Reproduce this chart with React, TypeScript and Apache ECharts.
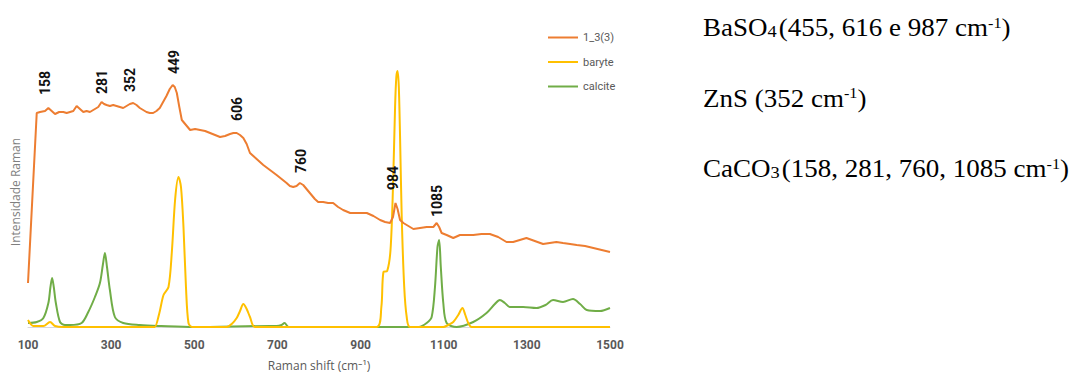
import React, { useEffect, useRef } from "react";
import * as echarts from "echarts";

const xTicks = [100, 300, 500, 700, 900, 1100, 1300, 1500];

const sampleShift = [100, 121, 129, 141, 149, 157, 165, 175, 185, 193, 201, 209, 217, 225, 233, 241, 249, 261, 269, 277, 283, 289, 297, 305, 313, 321, 329, 337, 345, 353, 361, 369, 377, 385, 393, 401, 409, 417, 425, 433, 441, 448, 453, 458, 464, 470, 480, 490, 502, 514, 526, 538, 550, 562, 574, 586, 594, 602, 610, 618, 626, 634, 650, 666, 682, 698, 710, 722, 730, 738, 746, 754, 762, 770, 778, 790, 798, 810, 822, 834, 846, 858, 875, 895, 915, 931, 947, 959, 971, 978, 984, 989, 995, 1003, 1015, 1027, 1043, 1059, 1075, 1083, 1089, 1095, 1107, 1123, 1139, 1155, 1171, 1191, 1211, 1231, 1251, 1267, 1283, 1299, 1319, 1339, 1355, 1371, 1387, 1404, 1420, 1440, 1460, 1480, 1500];
const sampleIntensity = [44, 214, 215, 216, 219, 216, 213, 215, 215, 214, 215, 216, 221, 218, 215, 216, 215, 218, 220, 225, 223, 222, 221, 222, 221, 220, 219, 221, 223, 224, 222, 219, 217, 215, 214, 214, 216, 219, 225, 231, 238, 242, 240, 234, 220, 207, 202, 197, 198, 197, 196, 194, 192, 190, 191, 193, 194, 194, 192, 189, 183, 174, 168, 162, 157, 152, 148, 144, 141, 140, 141, 144, 142, 138, 134, 128, 125, 125, 124, 124, 120, 117, 114, 114, 114, 111, 107, 105, 104, 110, 124, 118, 107, 104, 101, 98, 99, 100, 100, 104, 100, 94, 92, 89, 92, 92, 92, 93, 93, 90, 85, 85, 87, 89, 86, 83, 84, 85, 84, 83, 82, 81, 79, 77, 75];

const baryteShift = [100, 113, 137, 153, 165, 185, 401, 405, 416, 426, 438, 446, 454, 462, 468, 474, 480, 486, 495, 578, 590, 602, 610, 618, 626, 634, 646, 939, 950, 955, 964, 972, 978, 983, 986, 989, 992, 995, 999, 1005, 1011, 1019, 1099, 1111, 1123, 1135, 1145, 1152, 1159, 1167, 1500];
const baryteIntensity = [7, 1, 1, 5, 1, 0, 0, 0, 14, 32, 40, 75, 128, 150, 140, 100, 40, 4, 0, 0, 3, 9, 16, 23, 18, 10, 0, 0, 20, 55, 56, 77, 140, 220, 250, 256, 240, 190, 110, 40, 10, 0, 0, 2, 5, 12, 19, 12, 4, 0, 0];

const calciteShift = [100, 121, 137, 149, 154, 158, 162, 167, 177, 189, 201, 229, 245, 261, 273, 280, 285, 290, 297, 309, 329, 369, 420, 500, 682, 698, 710, 717, 727, 1040, 1059, 1071, 1079, 1085, 1089, 1093, 1099, 1107, 1131, 1171, 1203, 1223, 1235, 1247, 1259, 1291, 1323, 1345, 1363, 1387, 1411, 1428, 1444, 1476, 1500];
const calciteIntensity = [4, 5, 9, 24, 40, 49, 40, 24, 5, 2, 2, 4, 15, 30, 44, 62, 74, 60, 37, 10, 4, 2, 1, 0, 1, 1, 2, 4, 0, 0, 4, 10, 40, 80, 87, 60, 24, 4, 0, 5, 14, 23, 27, 24, 20, 20, 19, 22, 27, 25, 28, 23, 17, 16, 19];

const peakLabels = ["158", "281", "352", "449", "606", "760", "984", "1085"];
const peakLabelShift = [141, 278, 345, 451, 603, 757, 978, 1084];
const peakLabelIntensity = [244, 245, 247, 265, 218, 166, 149, 126];

const seriesNames = ["1_3(3)", "baryte", "calcite"];
const seriesColors = ["#ED7D31", "#FFC000", "#70AD47"];

const zip = (xs: number[], ys: number[]) => xs.map((x, i) => [x, ys[i]]);

export default function App() {
  const ref = useRef<HTMLDivElement>(null);
  useEffect(() => {
    document.body.style.margin = "0";
    const chart = echarts.init(ref.current!, null, { renderer: "svg" });
    const serif = "'Liberation Serif', 'Times New Roman', serif";
    const rich = {
      n: { fontFamily: serif, fontSize: 25, color: "#000", lineHeight: 30, verticalAlign: "middle" },
      sub: { fontFamily: serif, fontSize: 17, color: "#000", lineHeight: 30, verticalAlign: "bottom", padding: [0, 2, 3, 0] },
      sup: { fontFamily: serif, fontSize: 15, color: "#000", lineHeight: 30, verticalAlign: "top", padding: [2, 0, 0, 0] },
    };
    const lines = [
      "{n|BaSO}{sub|4}{n|(455, 616 e 987 cm}{sup|-1}{n|)}",
      "{n|ZnS (352 cm}{sup|-1}{n|)}",
      "{n|CaCO}{sub|3}{n|(158, 281, 760, 1085 cm}{sup|-1}{n|)}",
    ];
    const lineTop = [13, 83.5, 154];
    chart.setOption({
      animation: false,
      grid: { left: 28, right: 464, top: 57, bottom: 46, outerBoundsMode: "none", containLabel: false },
      legend: {
        data: seriesNames,
        orient: "vertical",
        left: 543,
        top: 27,
        itemWidth: 30,
        itemHeight: 2,
        itemGap: 13.5,
        icon: "rect",
        textStyle: { color: "#595959", fontSize: 11, fontFamily: "Roboto" },
      },
      xAxis: {
        type: "value",
        min: 100,
        max: 1500,
        interval: 200,
        axisLine: { show: true, lineStyle: { color: "#d9d9d9", width: 1 } },
        axisTick: { show: false },
        splitLine: { show: false },
        axisLabel: {
          color: "#595959",
          fontSize: 12,
          fontWeight: "bold",
          fontFamily: "Roboto",
          margin: 12,
          customValues: xTicks,
          formatter: (v: number) => String(v),
        },
        name: "Raman shift (cm⁻¹)",
        nameLocation: "middle",
        nameGap: 32,
        nameTextStyle: { color: "#595959", fontSize: 12, fontFamily: "'Open Sans', Roboto" },
      },
      yAxis: {
        type: "value",
        min: 0,
        max: 270,
        axisLine: { show: false },
        axisTick: { show: false },
        axisLabel: { show: false },
        splitLine: { show: false },
        name: "Intensidade Raman",
        nameLocation: "middle",
        nameRotate: 90,
        nameGap: 7,
        nameTextStyle: { color: "#7f7f7f", fontSize: 12, fontFamily: "'Open Sans', Roboto" },
      },
      series: [
        {
          name: seriesNames[0],
          type: "line",
          data: zip(sampleShift, sampleIntensity),
          showSymbol: false,
          lineStyle: { color: seriesColors[0], width: 2 },
          itemStyle: { color: seriesColors[0] },
          z: 3,
          markPoint: {
            symbol: "circle",
            symbolSize: 0,
            itemStyle: { color: "transparent" },
            label: {
              show: true,
              rotate: 90,
              position: "inside",
              color: "#111",
              fontSize: 14,
              fontWeight: "bold",
              fontFamily: "Roboto",
              formatter: (p: any) => p.name,
            },
            data: peakLabels.map((name, i) => ({
              name,
              coord: [peakLabelShift[i], peakLabelIntensity[i]],
            })),
          },
        },
        {
          name: seriesNames[1],
          type: "line",
          data: zip(baryteShift, baryteIntensity),
          showSymbol: false,
          smooth: 0.3,
          lineStyle: { color: seriesColors[1], width: 2 },
          itemStyle: { color: seriesColors[1] },
          z: 2,
        },
        {
          name: seriesNames[2],
          type: "line",
          data: zip(calciteShift, calciteIntensity),
          showSymbol: false,
          smooth: 0.3,
          lineStyle: { color: seriesColors[2], width: 2 },
          itemStyle: { color: seriesColors[2] },
          z: 1,
        },
      ],
      graphic: lines.map((t, i) => ({
        type: "text",
        x: 703,
        y: lineTop[i],
        scaleX: 1.08,
        style: { text: t, rich, fill: "#000", verticalAlign: "top", align: "left" },
      })),
    });
    return () => chart.dispose();
  }, []);
  return <div ref={ref} style={{ width: 1074, height: 373 }} />;
}
